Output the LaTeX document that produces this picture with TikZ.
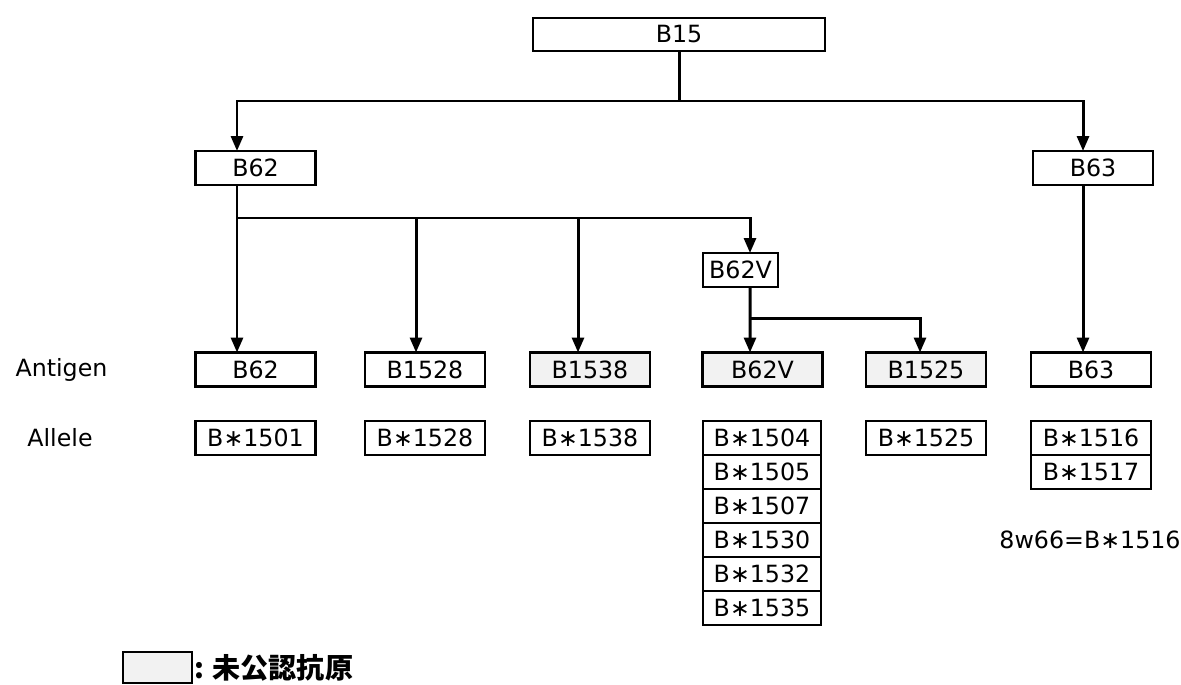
\documentclass[tikz,border=0pt]{standalone}
\usepackage{fontspec}
\setmainfont{DejaVu Sans}
\newfontfamily\jpfont{Noto Sans CJK JP}
\usetikzlibrary{arrows.meta,positioning}

\begin{document}
\begin{tikzpicture}[
  font=\fontsize{13.5}{16}\selectfont,
  box/.style={draw,line width=1.2pt,outer sep=0pt,minimum width=2.4cm,minimum height=0.68cm,inner sep=0pt},
  newbox/.style={box,fill=gray!10},
  link/.style={line width=1.7pt},
  arr/.style={link,-{Triangle[length=0.3cm,width=0.24cm]}},
]
  \useasboundingbox (0,0) rectangle (23.62,-13.68);

  \node[box,minimum width=5.84cm,minimum height=0.66cm] (b15) at (13.58,-0.69) {B15};
  \node[box] (b62top) at (5.11,-3.36) {B62};
  \node[box] (b63top) at (21.86,-3.36) {B63};
  \node[box,minimum width=1.5cm] (b62vmid) at (14.81,-5.40) {B62V};

  % antigen row
  \node (antigen) at (1.23,-7.39) {Antigen};
  \node[box] (b62a) at (5.11,-7.39) {B62};
  \node[box] (b1528a) at (8.50,-7.39) {B1528};
  \node[newbox] (b1538a) at (11.80,-7.39) {B1538};
  \node[newbox] (b62va) at (15.25,-7.39) {B62V};
  \node[newbox] (b1525a) at (18.52,-7.39) {B1525};
  \node[box] (b63a) at (21.82,-7.39) {B63};

  % allele row
  \node (allele) at (1.2,-8.76) {Allele};
  \node[box] (b1501) at (5.11,-8.76) {B∗1501};
  \node[box] (b1528) at (8.50,-8.76) {B∗1528};
  \node[box] (b1538) at (11.80,-8.76) {B∗1538};
  \node[box,minimum width=2.36cm] (b1504) at (15.24,-8.76) {B∗1504};
  \node[box,minimum width=2.36cm,below=0pt of b1504] (b1505) {B∗1505};
  \node[box,minimum width=2.36cm,below=0pt of b1505] (b1507) {B∗1507};
  \node[box,minimum width=2.36cm,below=0pt of b1507] (b1530) {B∗1530};
  \node[box,minimum width=2.36cm,below=0pt of b1530] (b1532) {B∗1532};
  \node[box,minimum width=2.36cm,below=0pt of b1532] (b1535) {B∗1535};
  \node[box] (b1525) at (18.52,-8.76) {B∗1525};
  \node[box] (b1516) at (21.82,-8.76) {B∗1516};
  \node[box,below=0pt of b1516] (b1517) {B∗1517};

  \node (note) at (21.8,-10.8) {8w66=B∗1516};

  % legend
  \node[newbox,minimum width=1.38cm,minimum height=0.62cm] (key) at (3.15,-13.35) {};
  \node[right=0pt of key,inner sep=1pt,font=\jpfont\bfseries\fontsize{16}{18}\selectfont] (keytext) {: 未公認抗原};

  % tree
  \coordinate (sp1) at (13.58,-2.02);
  \coordinate (sp2) at (4.74,-4.36);
  \coordinate (sp3) at (15.0,-6.36);
  \draw[link] (b15.south) -- (sp1);
  \draw[arr] (sp1) -| ([xshift=-0.37cm]b62top.north);
  \draw[arr] (sp1) -| ([xshift=-0.2cm]b63top.north);
  \draw[arr] ([xshift=-0.37cm]b62top.south) -- ([xshift=-0.37cm]b62a.north);
  \draw[arr] (sp2) -| ([xshift=0.19cm]b62vmid.north);
  \draw[arr] ([xshift=-0.18cm]b1528a.north |- sp2) -- ([xshift=-0.18cm]b1528a.north);
  \draw[arr] ([xshift=-0.24cm]b1538a.north |- sp2) -- ([xshift=-0.24cm]b1538a.north);
  \draw[arr] ([xshift=0.19cm]b62vmid.south) -- ([xshift=-0.25cm]b62va.north);
  \draw[arr] (sp3) -| ([xshift=-0.12cm]b1525a.north);
  \draw[arr] ([xshift=-0.2cm]b63top.south) -- ([xshift=-0.16cm]b63a.north);
\end{tikzpicture}
\end{document}
